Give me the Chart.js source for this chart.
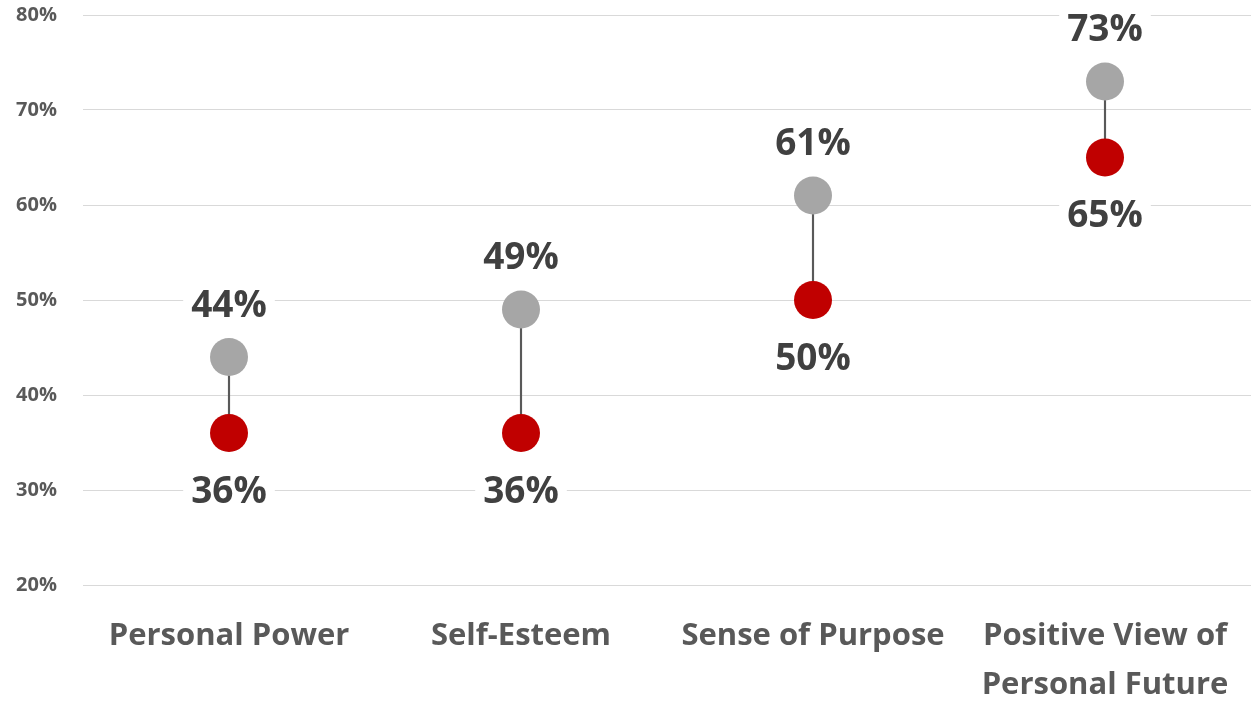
<!DOCTYPE html>
<html>
<head>
<meta charset="utf-8">
<script src="https://cdn.jsdelivr.net/npm/chart.js@4.4.1/dist/chart.umd.min.js"></script>
<style>
  html, body { margin: 0; padding: 0; background: #ffffff; }
  #wrap { width: 1252px; height: 702px; }
</style>
</head>
<body>
<div id="wrap"><canvas id="chart"></canvas></div>
<script>
// Data
const categories = ['Personal Power', 'Self-Esteem', 'Sense of Purpose', ['Positive View of', 'Personal Future']];
const highValues = [44, 49, 61, 73];   // grey dots
const lowValues = [36, 36, 50, 65];    // red dots
const yTicks = [20, 30, 40, 50, 60, 70, 80];

const FONT = "'Open Sans', 'DejaVu Sans', sans-serif";
const grey = '#a6a6a6';
const red = '#c00000';
const labelColor = '#404040';
const axisColor = '#595959';

// Value labels above the grey dots and below the red dots
const valueLabels = {
  id: 'valueLabels',
  afterDatasetsDraw(chart) {
    const { ctx } = chart;
    ctx.save();
    ctx.font = `bold 37px ${FONT}`;
    ctx.textAlign = 'center';
    ctx.textBaseline = 'middle';
    const draw = (dsIndex, offset) => {
      const meta = chart.getDatasetMeta(dsIndex);
      const data = chart.data.datasets[dsIndex].data;
      meta.data.forEach((pt, i) => {
        const text = data[i] + '%';
        const y = pt.y + offset;
        const w = ctx.measureText(text).width;
        ctx.fillStyle = '#ffffff';
        ctx.fillRect(pt.x - w / 2 - 8, y - 20, w + 16, 40);
        ctx.fillStyle = labelColor;
        ctx.fillText(text, pt.x, y);
      });
    };
    draw(1, -51);
    draw(2, 59);
    ctx.restore();
  },
};

const chart = new Chart(document.getElementById('chart'), {
  data: {
    labels: categories,
    datasets: [
      {
        // thin connector between the two dots
        type: 'bar',
        data: highValues.map((v, i) => [lowValues[i], v]),
        backgroundColor: '#595959',
        barThickness: 1.5,
        order: 3,
      },
      {
        type: 'line',
        data: highValues,
        showLine: false,
        pointRadius: 19,
        pointHoverRadius: 19,
        pointBackgroundColor: grey,
        pointBorderColor: grey,
        pointBorderWidth: 0,
        order: 1,
      },
      {
        type: 'line',
        data: lowValues,
        showLine: false,
        pointRadius: 19,
        pointHoverRadius: 19,
        pointBackgroundColor: red,
        pointBorderColor: red,
        pointBorderWidth: 0,
        order: 2,
      },
    ],
  },
  options: {
    responsive: true,
    maintainAspectRatio: false,
    animation: false,
    layout: { autoPadding: false, padding: { top: 15, right: 1, left: 0, bottom: 0 } },
    plugins: {
      legend: { display: false },
      tooltip: { enabled: false },
    },
    scales: {
      x: {
        offset: true,
        grid: { display: false },
        border: { display: false },
        ticks: {
          color: axisColor,
          padding: 18,
          maxRotation: 0,
          autoSkip: false,
          font: { family: FONT, size: 31, weight: 'bold', lineHeight: 1.6 },
        },
        afterFit(scale) {
          scale.height = 117;
          scale.paddingLeft = 0;
          scale.paddingRight = 0;
        },
      },
      y: {
        min: 20,
        max: 80,
        afterBuildTicks(scale) { scale.ticks = yTicks.map(v => ({ value: v })); },
        grid: { color: '#d9d9d9', lineWidth: 1, drawTicks: false },
        border: { display: false },
        ticks: {
          color: axisColor,
          padding: 26,
          font: { family: FONT, size: 20, weight: 'bold' },
          callback: (v) => v + '%',
        },
        afterFit(scale) {
          scale.width = 83;
          scale.paddingTop = 0;
          scale.paddingBottom = 0;
        },
      },
    },
  },
  plugins: [valueLabels],
});
</script>
</body>
</html>
